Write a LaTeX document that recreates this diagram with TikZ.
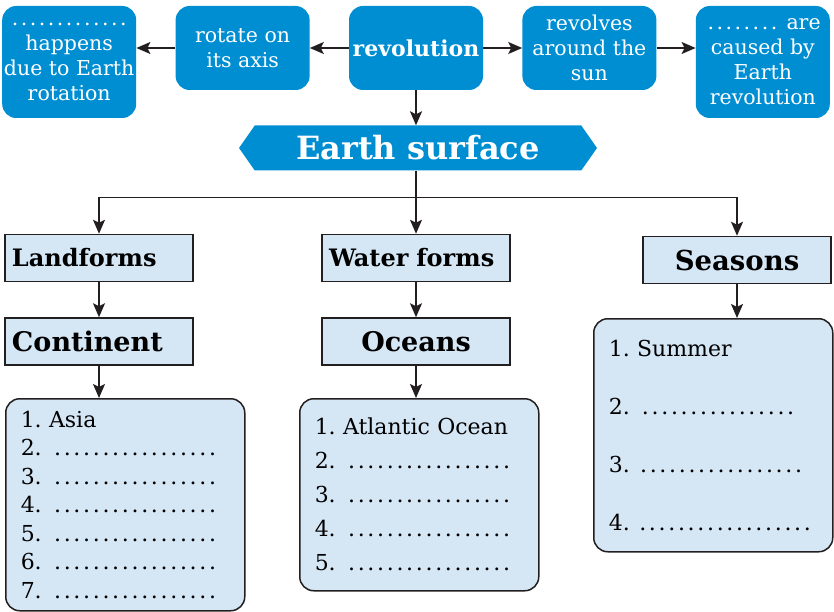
\documentclass[tikz,border=0pt]{standalone}
\usepackage{fontspec}
\setmainfont{DejaVu Serif}
\usetikzlibrary{arrows.meta,positioning,shapes.symbols}
\definecolor{edublue}{RGB}{0,142,211}
\definecolor{paleblue}{RGB}{213,230,245}
\definecolor{inkgray}{RGB}{35,31,32}
\newcommand{\fillin}[1]{\makebox[#1][l]{\dotfill}}
\frenchspacing
\tikzset{
  topbox/.style={fill=edublue, text=white, rounded corners=14pt, minimum width=134pt, minimum height=84pt, align=center, inner sep=1pt, font=\fontsize{20.5}{25}\selectfont},
  tallbox/.style={topbox, minimum height=112pt},
  headbox/.style={draw=inkgray, line width=1.5pt, fill=paleblue, minimum height=47pt, text width=174pt, inner xsep=7pt, align=center, font=\bfseries\fontsize{24}{27}\selectfont},
  listbox/.style={draw=inkgray, line width=1.5pt, fill=paleblue, rounded corners=14pt, text width=209pt, inner xsep=15pt, align=left, anchor=north west},
  banner/.style={signal, signal to=west and east, signal pointer angle=110, fill=edublue, text=white, minimum width=358pt, minimum height=45pt, font=\bfseries\fontsize{32}{36}\selectfont},
  thinarrow/.style={-{Stealth[length=14pt,width=12pt,inset=3pt]}, line width=1.6pt, draw=inkgray},
}

\begin{document}
\begin{tikzpicture}[x=1pt, y=-1pt, node distance=35pt and 39pt]
  \useasboundingbox (0,0) rectangle (834,612);

  % top row
  \node[topbox, font=\bfseries\fontsize{22}{25}\selectfont] (revolution) at (416,48) {revolution};
  \node[topbox, left=of revolution] (axis) {rotate on\\its axis};
  \node[tallbox, left=of axis.north west, anchor=north east] (rotation) {\fillin{126pt}\\happens\\due to Earth\\rotation};
  \node[topbox, right=of revolution] (sun) {revolves\\around the\\sun};
  \node[tallbox, right=of sun.north east, anchor=north west] (cause) {\fillin{75pt} are\\caused by\\Earth\\revolution};

  \draw[thinarrow] (revolution) -- (axis);
  \draw[thinarrow] (axis.west) -- (axis.west -| rotation.east);
  \draw[thinarrow] (revolution) -- (sun);
  \draw[thinarrow] (sun.east) -- (sun.east -| cause.west);

  \node[banner] (surface) at (418,148) {Earth surface};
  \draw[thinarrow] (revolution) -- (revolution |- surface.north);

  % second row
  \node[headbox, align=left] (landforms) at (99,258) {Landforms};
  \node[headbox, align=left] (waterforms) at (416,258) {Water forms};
  \node[headbox, font=\bfseries\fontsize{27.5}{30}\selectfont] (seasons) at (737,260) {Seasons};

  \coordinate[below=27pt of revolution |- surface.south] (split);
  \draw[line width=1.6pt, draw=inkgray] (split |- surface.south) -- (split);
  \draw[thinarrow] (split) -| (landforms);
  \draw[thinarrow] (split) -- (waterforms);
  \draw[thinarrow] (split) -| (seasons);

  \node[headbox, align=left, below=of landforms, font=\bfseries\fontsize{27}{30}\selectfont] (continent) {Continent};
  \node[headbox, below=of waterforms, font=\bfseries\fontsize{27}{30}\selectfont] (oceans) {Oceans};
  \draw[thinarrow] (landforms) -- (continent);
  \draw[thinarrow] (waterforms) -- (oceans);

  % lists
  \node[listbox, minimum height=212pt, font=\fontsize{22}{28.5}\selectfont] (asialist) at (5,398)
    {1. Asia\\2. \fillin{172pt}\\3. \fillin{172pt}\\4. \fillin{172pt}\\5. \fillin{172pt}\\6. \fillin{172pt}\\7. \fillin{172pt}};
  \node[listbox, minimum height=192pt, font=\fontsize{22}{34}\selectfont] (oceanlist) at (299,398)
    {1. Atlantic Ocean\\2. \fillin{172pt}\\3. \fillin{172pt}\\4. \fillin{172pt}\\5. \fillin{172pt}};
  \node[listbox, minimum height=233pt, font=\fontsize{22}{58}\selectfont] (seasonlist) at (593,318)
    {1. Summer\\2. \fillin{162pt}\\3. \fillin{168pt}\\4. \fillin{176pt}};

  \draw[thinarrow] (continent) -- (continent.south |- asialist.north);
  \draw[thinarrow] (oceans) -- (oceans.south |- oceanlist.north);
  \draw[thinarrow] (seasons) -- (seasons.south |- seasonlist.north);
\end{tikzpicture}
\end{document}
